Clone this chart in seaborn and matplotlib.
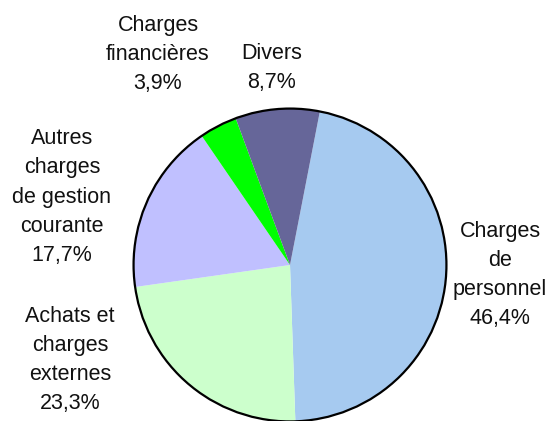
"""Répartition des charges - camembert."""
import matplotlib
matplotlib.use("Agg")
import matplotlib.pyplot as plt
from matplotlib.patches import Circle
import seaborn as sns

sns.set_theme(style="white")
plt.rcParams["font.family"] = ["Liberation Sans", "DejaVu Sans"]

# données
categories = [
    "Charges\nde\npersonnel",
    "Achats et\ncharges\nexternes",
    "Autres\ncharges\nde gestion\ncourante",
    "Charges\nfinancières",
    "Divers",
]
parts = [46.4, 23.3, 17.7, 3.9, 8.7]
couleurs = ["#A6CAF0", "#CCFFCC", "#C0C0FF", "#00FF00", "#666699"]

# positions des étiquettes (centre du bloc, en pixels)
pos_labels = [(500, 275), (70, 360), (62, 197), (158, 54), (272, 68)]

W, H = 547, 421
fig = plt.figure(figsize=(W / 100, H / 100), dpi=100)
cx, cy, r = 290, 265, 158
ax = fig.add_axes([(cx - r) / W, (H - cy - r) / H, 2 * r / W, 2 * r / H])

ax.pie(parts, colors=couleurs, startangle=79, counterclock=False,
       wedgeprops=dict(linewidth=0))
ax.add_patch(Circle((0, 0), 1, fill=False, edgecolor="black", lw=1.6))
ax.set_xlim(-1.01, 1.01)
ax.set_ylim(-1.01, 1.01)
ax.set_aspect("equal")
ax.axis("off")

for lab, val, (x, y) in zip(categories, parts, pos_labels):
    txt = f"{lab}\n{val:.1f}%".replace(".", ",")
    fig.text(x / W, 1 - y / H, txt, ha="center", va="center",
             fontsize=15.5, linespacing=1.5, color="#111111")

fig.savefig("out.png", dpi=100)
plt.close(fig)
